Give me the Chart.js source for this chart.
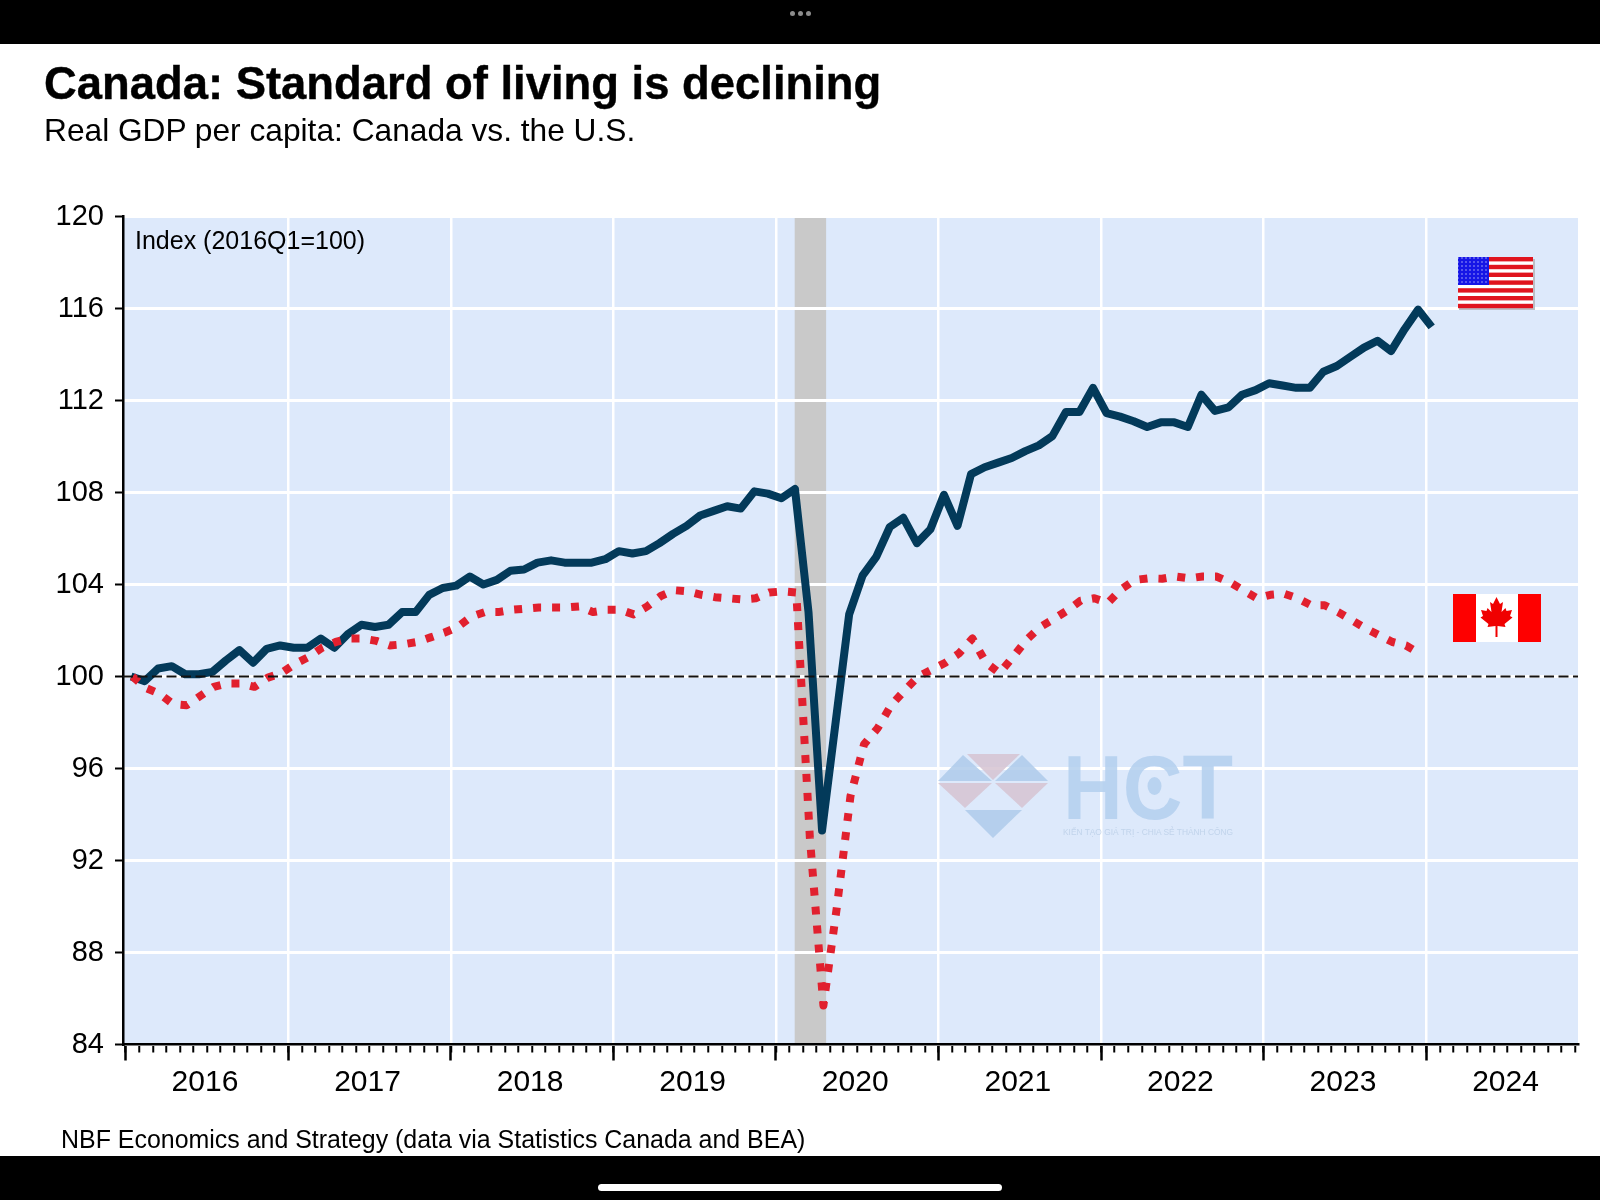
<!DOCTYPE html>
<html>
<head>
<meta charset="utf-8">
<title>Canada: Standard of living is declining</title>
<script src="https://cdn.jsdelivr.net/npm/chart.js@4"></script>
<style>
  html, body { margin: 0; padding: 0; background: #fff; }
  body { width: 1600px; height: 1200px; position: relative; overflow: hidden; font-family: "Liberation Sans", Arial, sans-serif; color: #000; }
  canvas { position: absolute; left: 0; top: 0; }
  .txt { position: absolute; white-space: nowrap; line-height: 1; }
  #title { left: 44px; top: 61px; font-size: 45.4px; font-weight: bold; -webkit-text-stroke: 0.4px #000; }
  #subtitle { left: 44px; top: 115px; font-size: 31.7px; }
  #unit { left: 135px; top: 228px; font-size: 25px; }
  #source { left: 61px; top: 1127px; font-size: 24.95px; }
  #topbar, #bottombar { position: absolute; left: 0; width: 1600px; background: #000; }
  #topbar { top: 0; height: 44px; }
  #bottombar { top: 1156px; height: 44px; }
  .dot { position: absolute; top: 11px; width: 5px; height: 5px; border-radius: 50%; background: #8c8c8c; }
  #pill { position: absolute; left: 598px; top: 28px; width: 404px; height: 7px; border-radius: 4px; background: #fff; }
  #overlay { position: absolute; left: 0; top: 0; }
</style>
</head>
<body>
<canvas id="grafico" width="1600" height="1200" style="width:1600px;height:1200px"></canvas>
<svg id="overlay" width="1600" height="1200" viewBox="0 0 1600 1200">
  <defs>
    <pattern id="stars" width="4" height="4" patternUnits="userSpaceOnUse">
      <circle cx="2" cy="2" r="0.8" fill="#a9a9f5"/>
    </pattern>
  </defs>
  <!-- watermark -->
  <g opacity="0.85">
    <g fill="#aecbea">
      <polygon points="963,755 938,781 992,781"/>
      <polygon points="1022,755 995,781 1048,781"/>
      <polygon points="965,810 1022,810 993,838"/>
    </g>
    <g fill="#d6c4d2">
      <polygon points="967,754 1020,754 993,780"/>
      <polygon points="938,783 992,783 965,808"/>
      <polygon points="995,783 1048,783 1022,808"/>
    </g>
    <g fill="#b3cfee">
      <text x="1063" y="819" font-size="90" font-weight="bold" font-family="Liberation Sans" textLength="170" lengthAdjust="spacingAndGlyphs">HCT</text>
      <ellipse cx="1154.5" cy="786" rx="7" ry="9"/>
    </g>
    <text x="1063" y="835" font-size="9" font-family="Liberation Sans" fill="#bcd0e8" textLength="170" lengthAdjust="spacingAndGlyphs">KIẾN TẠO GIÁ TRỊ - CHIA SẺ THÀNH CÔNG</text>
  </g>
  <!-- US flag -->
  <g>
    <rect x="1459" y="259" width="76" height="51" fill="#bdbdc4"/>
    <rect x="1458" y="257" width="75" height="51" fill="#fff"/>
    <g fill="#e0141e" id="usStripes"></g>
    <rect x="1458" y="257" width="31" height="28" fill="#1616e6"/>
    <rect x="1458" y="257" width="31" height="28" fill="url(#stars)"/>
  </g>
  <!-- Canadian flag -->
  <g>
    <rect x="1453" y="594" width="88" height="48" fill="#fe0000"/>
    <rect x="1476" y="594" width="42" height="48" fill="#fff"/>
    <polygon fill="#f00000" transform="translate(1496.5,617)" points="0,-20 3.5,-13 6.5,-15 5,-5 9,-9 10,-6 15.5,-7 13.5,-1 16,0.5 8,7 9,10 1,9 1,20 -1,20 -1,9 -9,10 -8,7 -16,0.5 -13.5,-1 -15.5,-7 -10,-6 -9,-9 -5,-5 -6.5,-15 -3.5,-13"/>
  </g>
</svg>
<div id="topbar">
  <span class="dot" style="left:790px"></span><span class="dot" style="left:798px"></span><span class="dot" style="left:806px"></span>
</div>
<div id="bottombar"><div id="pill"></div></div>
<div class="txt" id="title">Canada: Standard of living is declining</div>
<div class="txt" id="subtitle">Real GDP per capita: Canada vs. the U.S.</div>
<div class="txt" id="unit">Index (2016Q1=100)</div>
<div class="txt" id="source">NBF Economics and Strategy (data via Statistics Canada and BEA)</div>
<script>
// values, monthly from Jan 2016
const usValues = [
  100, 99.8, 100.35, 100.45, 100.1, 100.1, 100.2, 100.7, 101.15, 100.6, 101.2, 101.35,
  101.25, 101.25, 101.65, 101.25, 101.85, 102.25, 102.15, 102.25, 102.8, 102.8, 103.55, 103.85,
  103.95, 104.35, 104.0, 104.2, 104.6, 104.65, 104.95, 105.05, 104.95, 104.95, 104.95, 105.1,
  105.45, 105.35, 105.45, 105.8, 106.2, 106.55, 107.0, 107.2, 107.4, 107.3, 108.05, 107.95,
  107.75, 108.15, 102.8, 93.3, 98.0, 102.7, 104.4, 105.2, 106.5, 106.9, 105.8, 106.4,
  107.9, 106.55, 108.8, 109.1, 109.3, 109.5, 109.8, 110.05, 110.45, 111.5, 111.5, 112.55,
  111.45, 111.3, 111.1, 110.85, 111.05, 111.05, 110.85, 112.25, 111.55, 111.7, 112.25, 112.45,
  112.75, 112.65, 112.55, 112.55, 113.25, 113.5, 113.9, 114.3, 114.6, 114.15, 115.1, 115.95,
  115.2
];
const canadaValues = [
  100, 99.5, 99.25, 98.8, 98.75, 99.15, 99.55, 99.7, 99.7, 99.55, 99.95, 100.15,
  100.55, 100.85, 101.25, 101.5, 101.65, 101.65, 101.55, 101.35, 101.4, 101.5, 101.7, 101.9,
  102.15, 102.6, 102.8, 102.8, 102.9, 102.95, 103.0, 103.0, 103.0, 103.05, 102.8, 102.9,
  102.9, 102.7, 103.05, 103.5, 103.75, 103.7, 103.55, 103.45, 103.4, 103.35, 103.4, 103.65,
  103.7, 103.65, 93.0, 85.7, 90.0, 94.8, 97.05, 97.75, 98.75, 99.4, 100.0, 100.3,
  100.6, 101.0, 101.65, 100.6, 100.15, 100.85, 101.6, 102.15, 102.5, 102.87, 103.3, 103.4,
  103.2, 103.8, 104.2, 104.27, 104.25, 104.35, 104.27, 104.35, 104.35, 104.1, 103.75, 103.4,
  103.55, 103.6, 103.4, 103.1, 103.1, 102.8, 102.45, 102.1, 101.8, 101.5, 101.35, 101.0
];
const yearLabels = ['2016', '2017', '2018', '2019', '2020', '2021', '2022', '2023', '2024'];
const yTicks = [84, 88, 92, 96, 100, 104, 108, 112, 116, 120];
const baseIndex = 100;
const recessionBand = [49.38, 51.7]; // months since Jan 2016

const xMin = -0.2;
const xMax = 107.2;
// the points sit inside their month, not on the tick
const usOffset = 0.4;
const canadaOffset = 0.5;

const toPoints = (values, offset) => values.map((y, i) => ({ x: i + offset, y }));

const monthTicks = [];
for (let m = 0; m <= xMax; m++) monthTicks.push({ value: m });

// year axis: long tick at each year start, label about half way through the year
const yearTicks = [];
yearLabels.forEach((label, i) => {
  yearTicks.push({ value: i * 12 });
  yearTicks.push({ value: i * 12 + 5.85, label });
});

// stripes of the US flag
const stripes = document.getElementById('usStripes');
for (let i = 0; i < 7; i++) {
  const r = document.createElementNS('http://www.w3.org/2000/svg', 'rect');
  r.setAttribute('x', 1458);
  r.setAttribute('y', 257 + i * 7.8);
  r.setAttribute('width', 75);
  r.setAttribute('height', 4.4);
  stripes.appendChild(r);
}

const plotBackground = {
  id: 'plotBackground',
  beforeDraw(chart) {
    const { ctx, chartArea: a, scales } = chart;
    ctx.save();
    ctx.fillStyle = '#dde9fb';
    ctx.fillRect(a.left, a.top, a.right - a.left, a.bottom - a.top);
    ctx.fillStyle = '#c9c9c9';
    const x0 = scales.x.getPixelForValue(recessionBand[0]);
    const x1 = scales.x.getPixelForValue(recessionBand[1]);
    ctx.fillRect(x0, a.top, x1 - x0, a.bottom - a.top);
    ctx.restore();
  }
};

new Chart(document.getElementById('grafico'), {
  type: 'line',
  plugins: [plotBackground],
  data: {
    datasets: [
      {
        label: 'Base',
        data: [{ x: xMin, y: baseIndex }, { x: xMax, y: baseIndex }],
        borderColor: '#111',
        borderWidth: 2,
        borderDash: [10, 4.5],
        pointRadius: 0
      },
      {
        label: 'Canada',
        data: toPoints(canadaValues, canadaOffset),
        borderColor: '#e1202e',
        borderWidth: 8,
        borderDash: [8, 11],
        borderJoinStyle: 'round',
        pointRadius: 0
      },
      {
        label: 'U.S.',
        data: toPoints(usValues, usOffset),
        borderColor: '#033a5a',
        borderWidth: 8,
        borderJoinStyle: 'round',
        pointRadius: 0
      }
    ]
  },
  options: {
    responsive: false,
    animation: false,
    parsing: { xAxisKey: 'x', yAxisKey: 'y' },
    layout: { padding: { left: 0, top: 216.5, right: 22, bottom: 95.5 } },
    plugins: { legend: { display: false }, tooltip: { enabled: false }, title: { display: false } },
    scales: {
      x: {
        type: 'linear',
        min: xMin,
        max: xMax,
        weight: 0,
        afterBuildTicks: s => { s.ticks = monthTicks.map(t => ({ ...t })); },
        afterFit: s => { s.height = 0; },
        ticks: { display: false },
        border: { color: '#000', width: 2.5 },
        grid: {
          tickLength: 8,
          lineWidth: 2.5,
          color: c => (c.tick && c.tick.value > 0 && c.tick.value % 12 === 0 ? '#ffffff' : 'rgba(0,0,0,0)'),
          tickColor: '#000',
          tickWidth: 2
        }
      },
      xYears: {
        type: 'linear',
        position: 'bottom',
        min: xMin,
        max: xMax,
        weight: 1,
        afterBuildTicks: s => { s.ticks = yearTicks.map(t => ({ value: t.value })); },
        afterFit: s => { s.height = 60; },
        ticks: {
          autoSkip: false,
          maxRotation: 0,
          padding: 4,
          color: '#000',
          font: { family: 'Liberation Sans', size: 30 },
          callback: v => {
            const t = yearTicks.find(k => k.value === v);
            return t && t.label ? t.label : '';
          }
        },
        border: { display: false },
        grid: {
          drawOnChartArea: false,
          tickLength: 16,
          tickWidth: 2.5,
          tickColor: c => (c.tick && c.tick.value % 12 === 0 ? '#000' : 'rgba(0,0,0,0)')
        }
      },
      y: {
        min: yTicks[0],
        max: yTicks[yTicks.length - 1],
        afterBuildTicks: s => { s.ticks = yTicks.map(value => ({ value })); },
        afterFit: s => { s.width = 123; },
        ticks: { padding: 11, color: '#000', font: { family: 'Liberation Sans', size: 29 } },
        border: { color: '#000', width: 2.5 },
        grid: { color: '#ffffff', lineWidth: 3, tickLength: 8, tickColor: '#000', tickWidth: 2 }
      }
    }
  }
});
</script>
</body>
</html>
